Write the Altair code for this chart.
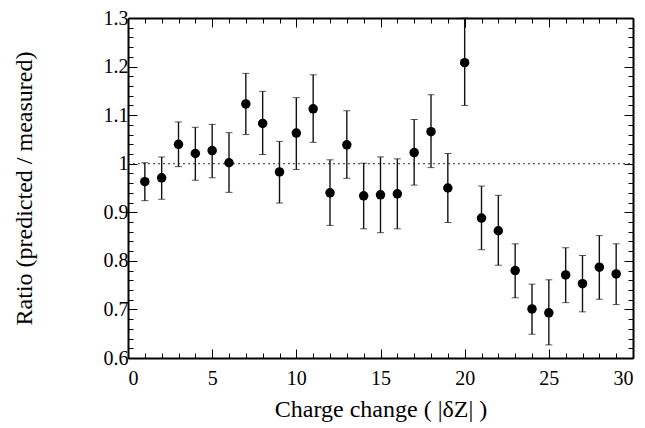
import altair as alt
import pandas as pd

# ---- data ----
charge = list(range(1, 30))
ratio = [0.963, 0.971, 1.040, 1.021, 1.027, 1.002, 1.123, 1.083, 0.983, 1.063,
         1.113, 0.940, 1.039, 0.934, 0.936, 0.938, 1.023, 1.066, 0.950, 1.208,
         0.888, 0.862, 0.780, 0.701, 0.693, 0.771, 0.753, 0.787, 0.773]
err_hi = [1.002, 1.014, 1.086, 1.075, 1.081, 1.064, 1.186, 1.149, 1.046, 1.136,
          1.183, 1.008, 1.109, 1.001, 1.014, 1.010, 1.091, 1.142, 1.021, 1.300,
          0.954, 0.935, 0.835, 0.752, 0.761, 0.827, 0.811, 0.852, 0.835]
err_lo = [0.924, 0.927, 0.994, 0.966, 0.971, 0.941, 1.060, 1.019, 0.919, 0.988,
          1.044, 0.873, 0.970, 0.866, 0.858, 0.866, 0.956, 0.992, 0.879, 1.120,
          0.823, 0.791, 0.724, 0.649, 0.627, 0.714, 0.695, 0.721, 0.710]

x_ticks = list(range(0, 31))
y_ticks = [round(0.6 + 0.02 * i, 2) for i in range(36)]
reference_level = [1.0]

df = pd.DataFrame({"x": charge, "y": ratio, "hi": err_hi, "lo": err_lo})
ref_df = pd.DataFrame({"y": reference_level})

FONT = "Times New Roman"
xs = alt.Scale(domain=[0, 30], nice=False, zero=False)
ys = alt.Scale(domain=[0.6, 1.3], nice=False, zero=False)

x_major = "datum.value % 5 === 0"
y_major = "abs(datum.value * 10 - round(datum.value * 10)) < 0.001"

def tsize(test):
    return {"condition": {"test": test, "value": -9}, "value": -5}

common = dict(domainColor="black", domainWidth=2, tickColor="black", tickWidth=1,
              grid=False, labelFont=FONT, labelFontSize=20, labelColor="black",
              titleFont=FONT, titleFontSize=24, titleFontWeight="normal", titleColor="black")

x_bottom = alt.Axis(orient="bottom", values=x_ticks, tickSize=tsize(x_major),
                    labelExpr=f"{x_major} ? datum.label : ''", labelPadding=19,
                    labelAngle=0, title="Charge change ( |δZ| )", titlePadding=9, **common)
y_left = alt.Axis(orient="left", values=y_ticks, tickSize=tsize(y_major),
                  labelExpr=f"{y_major} ? format(datum.value, '~g') : ''", labelPadding=9,
                  title="Ratio (predicted / measured)", titlePadding=67, **common)
x_top = alt.Axis(orient="top", values=x_ticks, tickSize=tsize(x_major), labels=False,
                 title=None, **common)
y_right = alt.Axis(orient="right", values=y_ticks, tickSize=tsize(y_major), labels=False,
                   title=None, **common)

ref_line = alt.Chart(ref_df).mark_rule(color="#333", strokeDash=[2, 3], strokeWidth=1).encode(
    y=alt.Y("y:Q", scale=ys, axis=y_left),
    x=alt.datum(0, scale=xs, axis=x_bottom),
    x2=alt.datum(30),
)

bars = alt.Chart(df).mark_rule(color="#111", strokeWidth=1.4).encode(
    x=alt.X("x:Q", scale=xs, axis=x_top),
    y=alt.Y("lo:Q", scale=ys, axis=y_right),
    y2="hi:Q",
)

cap_hi = alt.Chart(df).mark_tick(color="#111", orient="horizontal", thickness=1, size=7).encode(
    x=alt.X("x:Q", scale=xs, axis=None),
    y=alt.Y("hi:Q", scale=ys, axis=None),
)
cap_lo = alt.Chart(df).mark_tick(color="#111", orient="horizontal", thickness=1, size=7).encode(
    x=alt.X("x:Q", scale=xs, axis=None),
    y=alt.Y("lo:Q", scale=ys, axis=None),
)

pts = alt.Chart(df).mark_point(filled=True, shape="circle", size=90, color="black", opacity=1).encode(
    x=alt.X("x:Q", scale=xs, axis=None),
    y=alt.Y("y:Q", scale=ys, axis=None),
)

chart = alt.layer(ref_line, bars, cap_hi, cap_lo, pts).resolve_axis(
    x="independent", y="independent"
).properties(
    width=505, height=340,
    autosize=alt.AutoSizeParams(type="none"),
    padding={"left": 120, "top": 10, "right": 4, "bottom": 72},
).configure_view(stroke=None).configure_axis(
    labelFont=FONT, titleFont=FONT
).configure(background="white", font=FONT)

chart.save("out.html", embed_options={"renderer": "svg", "actions": False})
